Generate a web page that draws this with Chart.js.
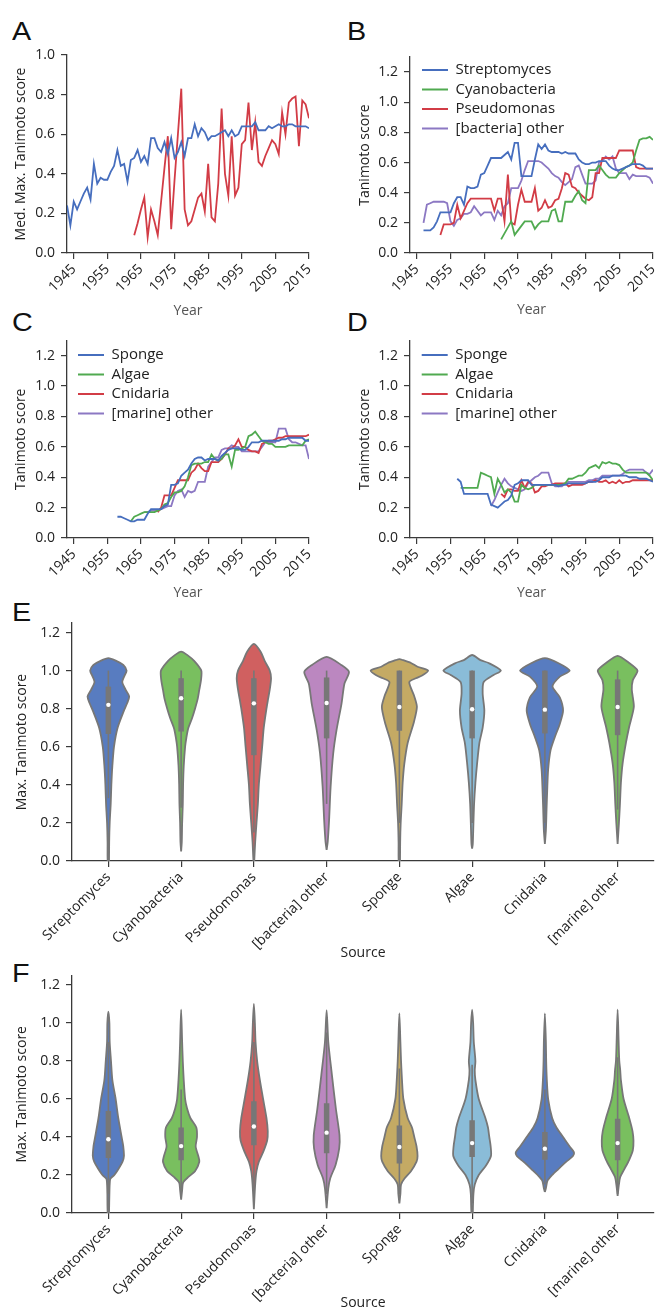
<!DOCTYPE html>
<html>
<head>
<meta charset="utf-8">
<script src="https://cdn.jsdelivr.net/npm/chart.js@4.4.1/dist/chart.umd.min.js"></script>
<style>
  html, body { margin: 0; padding: 0; background: #fff; overflow: hidden; }
  body { width: 658px; height: 1311px; position: relative; }
  .panel { position: absolute; }
  .letter { position: absolute; font-family: "Liberation Sans", Arial, sans-serif; font-size: 25px; line-height: 25px; color: #111; transform: scaleX(1.15); transform-origin: left top; }
</style>
</head>
<body>
<div class="letter" style="left:12px;top:19px">A</div>
<div class="letter" style="left:347px;top:19px">B</div>
<div class="letter" style="left:12px;top:310px">C</div>
<div class="letter" style="left:347px;top:310px">D</div>
<div class="letter" style="left:12px;top:600px">E</div>
<div class="letter" style="left:12px;top:961px">F</div>

<div class="panel" style="left:0;top:40px"><canvas id="chartA" width="325" height="290"></canvas></div>
<div class="panel" style="left:333px;top:40px"><canvas id="chartB" width="325" height="290"></canvas></div>
<div class="panel" style="left:0;top:325px"><canvas id="chartC" width="325" height="280"></canvas></div>
<div class="panel" style="left:333px;top:325px"><canvas id="chartD" width="325" height="280"></canvas></div>
<div class="panel" style="left:0;top:610px"><canvas id="chartE" width="658" height="355"></canvas></div>
<div class="panel" style="left:0;top:965px"><canvas id="chartF" width="658" height="346"></canvas></div>

<script>
// ---- data ----
const yearTicks = [1945, 1955, 1965, 1975, 1985, 1995, 2005, 2015];
const scoreTicksA = [0, 0.2, 0.4, 0.6, 0.8, 1.0];
const scoreTicks = [0, 0.2, 0.4, 0.6, 0.8, 1.0, 1.2];

// Panel A: median max Tanimoto score per year
const aBlueStart = 1943;
const aBlue = [
  0.24, 0.14, 0.26, 0.22, 0.26, 0.30, 0.33,
  0.27, 0.45, 0.35, 0.38, 0.37, 0.37, 0.41, 0.44, 0.52, 0.44,
  0.45, 0.36, 0.47, 0.48, 0.52, 0.46, 0.49, 0.45, 0.58, 0.58,
  0.53, 0.51, 0.56, 0.50, 0.58, 0.48, 0.51, 0.56, 0.49, 0.58,
  0.58, 0.65, 0.59, 0.63, 0.61, 0.57, 0.59, 0.59, 0.60, 0.61,
  0.62, 0.59, 0.62, 0.59, 0.60, 0.64, 0.64, 0.64, 0.64, 0.66,
  0.62, 0.62, 0.62, 0.64, 0.63, 0.64, 0.65, 0.64, 0.64, 0.65,
  0.65, 0.64, 0.64, 0.64, 0.64, 0.63
];
const aRedStart = 1963;
const aRed = [
  0.09, 0.15, 0.22, 0.28, 0.08, 0.22, 0.16,
  0.09, 0.26, 0.43, 0.59, 0.12, 0.37, 0.60, 0.83, 0.22, 0.14,
  0.16, 0.22, 0.28, 0.30, 0.21, 0.45, 0.18, 0.16, 0.35, 0.73,
  0.40, 0.29, 0.59, 0.29, 0.33, 0.55, 0.57, 0.76, 0.52, 0.66,
  0.46, 0.44, 0.49, 0.53, 0.57, 0.55, 0.50, 0.71, 0.60, 0.76,
  0.78, 0.79, 0.54, 0.77, 0.75, 0.68
];

// Panel B: bacteria sources
const bStreptoStart = 1947;
const bStrepto = [
  0.15, 0.15, 0.15,
  0.17, 0.21, 0.27, 0.27, 0.27, 0.27, 0.33, 0.37, 0.37, 0.32,
  0.44, 0.43, 0.43, 0.44, 0.52, 0.53, 0.58, 0.63, 0.63, 0.63,
  0.63, 0.65, 0.67, 0.62, 0.73, 0.73, 0.51, 0.51, 0.51, 0.51,
  0.62, 0.72, 0.69, 0.72, 0.68, 0.67, 0.67, 0.67, 0.66, 0.67,
  0.66, 0.66, 0.66, 0.62, 0.60, 0.59, 0.59, 0.60, 0.60, 0.61,
  0.61, 0.61, 0.58, 0.56, 0.55, 0.55, 0.56, 0.57, 0.58, 0.59,
  0.59, 0.59, 0.58, 0.56, 0.56, 0.56
];
const bCyanoStart = 1970;
const bCyano = [
  0.09, 0.13, 0.17, 0.21, 0.12, 0.15, 0.18, 0.21, 0.21, 0.21,
  0.16, 0.19, 0.21, 0.21, 0.21, 0.28, 0.29, 0.21, 0.21, 0.34,
  0.34, 0.34, 0.38, 0.41, 0.35, 0.33, 0.55, 0.55, 0.55, 0.58,
  0.55, 0.52, 0.50, 0.50, 0.50, 0.53, 0.55, 0.57, 0.58, 0.60,
  0.68, 0.75, 0.76, 0.76, 0.77, 0.75
];
const bPseudoStart = 1952;
const bPseudo = [
  0.12, 0.19, 0.19, 0.19, 0.20, 0.32, 0.23, 0.28,
  0.33, 0.36, 0.36, 0.36, 0.36, 0.36, 0.36, 0.36, 0.28, 0.36,
  0.36, 0.21, 0.52, 0.20, 0.19, 0.32, 0.42, 0.34, 0.34, 0.34,
  0.43, 0.28, 0.30, 0.35, 0.30, 0.31, 0.35, 0.36, 0.43, 0.53,
  0.52, 0.44, 0.43, 0.40, 0.38, 0.36, 0.35, 0.37, 0.53, 0.53,
  0.63, 0.63, 0.63, 0.63, 0.63, 0.68, 0.68, 0.68, 0.68, 0.68,
  0.57, 0.56, 0.56, 0.56, 0.56, 0.56
];
const bOtherStart = 1947;
const bOther = [
  0.20, 0.32, 0.33,
  0.34, 0.34, 0.34, 0.34, 0.33, 0.21, 0.18, 0.22, 0.23, 0.26,
  0.26, 0.27, 0.31, 0.28, 0.25, 0.27, 0.27, 0.27, 0.22, 0.28,
  0.25, 0.31, 0.33, 0.43, 0.43, 0.43, 0.48, 0.55, 0.61, 0.61,
  0.61, 0.61, 0.60, 0.58, 0.56, 0.53, 0.51, 0.50, 0.47, 0.45,
  0.47, 0.49, 0.57, 0.58, 0.52, 0.46, 0.46, 0.46, 0.48, 0.60,
  0.61, 0.64, 0.62, 0.64, 0.56, 0.53, 0.53, 0.53, 0.49, 0.52,
  0.51, 0.51, 0.51, 0.51, 0.50, 0.46
];

// Panel C: marine sources
const cSpongeStart = 1958;
const cSponge = [
  0.14, 0.14,
  0.13, 0.12, 0.11, 0.11, 0.12, 0.12, 0.12, 0.16, 0.19, 0.19,
  0.19, 0.19, 0.21, 0.22, 0.35, 0.35, 0.36, 0.41, 0.43, 0.45,
  0.49, 0.52, 0.53, 0.53, 0.51, 0.52, 0.52, 0.52, 0.51, 0.54,
  0.56, 0.58, 0.59, 0.59, 0.59, 0.58, 0.58, 0.60, 0.63, 0.63,
  0.63, 0.64, 0.64, 0.64, 0.64, 0.64, 0.64, 0.65, 0.65, 0.66,
  0.66, 0.66, 0.66, 0.66, 0.64, 0.64
];
const cAlgaeStart = 1962;
const cAlgae = [
  0.11, 0.14, 0.15, 0.16, 0.17, 0.17, 0.17, 0.17,
  0.18, 0.19, 0.22, 0.23, 0.27, 0.30, 0.30, 0.31, 0.34, 0.40,
  0.48, 0.49, 0.49, 0.49, 0.50, 0.50, 0.55, 0.52, 0.51, 0.52,
  0.55, 0.55, 0.47, 0.58, 0.58, 0.59, 0.60, 0.67, 0.68, 0.70,
  0.67, 0.64, 0.63, 0.62, 0.62, 0.60, 0.60, 0.60, 0.60, 0.61,
  0.61, 0.61, 0.61, 0.61, 0.64, 0.65
];
const cCnidStart = 1970;
const cCnid = [
  0.17, 0.20, 0.28, 0.28, 0.28, 0.33, 0.38, 0.38, 0.38, 0.38,
  0.43, 0.45, 0.49, 0.46, 0.44, 0.44, 0.50, 0.50, 0.50, 0.52,
  0.55, 0.59, 0.59, 0.61, 0.65, 0.60, 0.60, 0.58, 0.57, 0.57,
  0.56, 0.62, 0.63, 0.64, 0.64, 0.65, 0.66, 0.66, 0.67, 0.67,
  0.67, 0.67, 0.67, 0.67, 0.67, 0.68
];
const cOtherStart = 1966;
const cOther = [
  0.17, 0.17, 0.18, 0.18,
  0.18, 0.19, 0.20, 0.21, 0.21, 0.28, 0.31, 0.32, 0.27, 0.31,
  0.30, 0.31, 0.37, 0.37, 0.37, 0.47, 0.50, 0.53, 0.53, 0.58,
  0.59, 0.59, 0.61, 0.60, 0.60, 0.57, 0.57, 0.57, 0.57, 0.57,
  0.57, 0.60, 0.63, 0.63, 0.63, 0.63, 0.72, 0.72, 0.72, 0.65,
  0.63, 0.63, 0.62, 0.61, 0.61, 0.52
];

// Panel D: marine sources
const dSpongeStart = 1957;
const dSponge = [
  0.39, 0.37, 0.29,
  0.29, 0.29, 0.29, 0.29, 0.29, 0.29, 0.29, 0.22, 0.21, 0.20,
  0.22, 0.24, 0.25, 0.28, 0.35, 0.36, 0.38, 0.38, 0.38, 0.35,
  0.35, 0.35, 0.35, 0.35, 0.35, 0.35, 0.35, 0.34, 0.35, 0.35,
  0.36, 0.36, 0.36, 0.36, 0.36, 0.36, 0.37, 0.37, 0.37, 0.38,
  0.40, 0.40, 0.40, 0.41, 0.41, 0.41, 0.41, 0.41, 0.40, 0.40,
  0.40, 0.39, 0.39, 0.39, 0.38, 0.37
];
const dAlgaeStart = 1958;
const dAlgae = [
  0.33, 0.33,
  0.33, 0.33, 0.33, 0.33, 0.43, 0.42, 0.41, 0.40, 0.29, 0.39,
  0.35, 0.30, 0.32, 0.30, 0.24, 0.24, 0.35, 0.33, 0.32, 0.33,
  0.35, 0.35, 0.35, 0.35, 0.35, 0.35, 0.35, 0.35, 0.35, 0.36,
  0.39, 0.39, 0.40, 0.41, 0.41, 0.43, 0.46, 0.47, 0.48, 0.46,
  0.50, 0.49, 0.50, 0.49, 0.49, 0.48, 0.45, 0.43, 0.43, 0.43,
  0.43, 0.43, 0.43, 0.43, 0.41, 0.38
];
const dCnidStart = 1970;
const dCnid = [
  0.29, 0.27, 0.32, 0.32, 0.31, 0.31, 0.38, 0.33, 0.37, 0.36,
  0.30, 0.31, 0.34, 0.34, 0.35, 0.35, 0.36, 0.36, 0.36, 0.36,
  0.34, 0.35, 0.35, 0.35, 0.35, 0.36, 0.37, 0.37, 0.38, 0.37,
  0.37, 0.38, 0.36, 0.37, 0.36, 0.38, 0.36, 0.37, 0.37, 0.38,
  0.38, 0.38, 0.38, 0.38, 0.38, 0.38
];
const dOtherStart = 1967;
const dOther = [
  0.21, 0.25, 0.30,
  0.35, 0.39, 0.36, 0.34, 0.33, 0.32, 0.31, 0.32, 0.36, 0.38,
  0.40, 0.41, 0.43, 0.43, 0.43, 0.36, 0.34, 0.34, 0.34, 0.36,
  0.37, 0.37, 0.37, 0.37, 0.37, 0.37, 0.38, 0.38, 0.39, 0.39,
  0.41, 0.41, 0.41, 0.41, 0.41, 0.41, 0.42, 0.44, 0.45, 0.45,
  0.45, 0.45, 0.45, 0.43, 0.42, 0.45
];

// Panels E/F: violin profiles, [score, half width in category units]
const sources = ['Streptomyces', 'Cyanobacteria', 'Pseudomonas', '[bacteria] other',
                 'Sponge', 'Algae', 'Cnidaria', '[marine] other'];
const violinsE = [
  [[0, 0.009], [0.1, 0.011], [0.2, 0.018], [0.3, 0.032], [0.4, 0.041], [0.5, 0.055], [0.6, 0.077], [0.7, 0.127],
   [0.79, 0.214], [0.83, 0.259], [0.865, 0.286], [0.9, 0.236], [0.94, 0.191], [0.97, 0.218], [1.0, 0.25],
   [1.03, 0.205], [1.05, 0.114], [1.065, 0]],
  [[0.05, 0], [0.1, 0.009], [0.2, 0.014], [0.3, 0.023], [0.4, 0.027], [0.5, 0.036], [0.6, 0.055], [0.65, 0.073],
   [0.7, 0.1], [0.75, 0.15], [0.8, 0.191], [0.85, 0.227], [0.9, 0.25], [0.95, 0.273], [1.0, 0.277],
   [1.05, 0.182], [1.08, 0.091], [1.1, 0]],
  [[0, 0.005], [0.1, 0.018], [0.2, 0.036], [0.3, 0.055], [0.4, 0.068], [0.5, 0.091], [0.6, 0.114], [0.7, 0.136],
   [0.8, 0.173], [0.85, 0.195], [0.9, 0.218], [0.96, 0.236], [1.0, 0.218], [1.05, 0.15], [1.1, 0.091], [1.14, 0]],
  [[0.058, 0], [0.1, 0.015], [0.215, 0.034], [0.39, 0.055], [0.566, 0.091], [0.687, 0.136], [0.827, 0.205],
   [0.932, 0.245], [0.993, 0.307], [1.03, 0.2], [1.072, 0]],
  [[0, 0.009], [0.1, 0.011], [0.2, 0.018], [0.3, 0.032], [0.41, 0.045], [0.51, 0.068], [0.62, 0.114], [0.73, 0.2],
   [0.81, 0.241], [0.87, 0.2], [0.94, 0.136], [0.96, 0.227], [0.975, 0.318], [1.0, 0.395], [1.02, 0.25],
   [1.04, 0.16], [1.055, 0.05], [1.06, 0]],
  [[0.065, 0], [0.09, 0.009], [0.2, 0.018], [0.3, 0.027], [0.41, 0.045], [0.51, 0.068], [0.62, 0.1], [0.7, 0.145],
   [0.79, 0.168], [0.88, 0.145], [0.94, 0.159], [0.977, 0.295], [1.0, 0.395], [1.04, 0.227], [1.055, 0.114],
   [1.082, 0]],
  [[0.09, 0], [0.16, 0.014], [0.27, 0.023], [0.37, 0.032], [0.48, 0.045], [0.58, 0.077], [0.65, 0.136],
   [0.72, 0.205], [0.79, 0.25], [0.86, 0.205], [0.916, 0.105], [0.968, 0.205], [1.0, 0.341], [1.04, 0.182],
   [1.065, 0]],
  [[0.09, 0], [0.2, 0.018], [0.3, 0.032], [0.41, 0.045], [0.51, 0.068], [0.62, 0.114], [0.705, 0.159],
   [0.81, 0.223], [0.9, 0.195], [0.95, 0.209], [1.0, 0.273], [1.04, 0.159], [1.077, 0]]
];
// [q1, q3, median, whisker low, whisker high]
const boxesE = [
  [0.667, 0.916, 0.82, 0.33, 1.0],
  [0.68, 0.96, 0.855, 0.28, 1.0],
  [0.556, 0.96, 0.828, 0.15, 1.0],
  [0.644, 0.964, 0.83, 0.3, 1.0],
  [0.684, 1.0, 0.809, 0.2, 1.0],
  [0.644, 1.0, 0.797, 0.2, 1.0],
  [0.67, 1.0, 0.795, 0.2, 1.0],
  [0.661, 0.954, 0.809, 0.27, 1.0]
];
const violinsF = [
  [[0, 0.009], [0.1, 0.014], [0.15, 0.018], [0.18, 0.027], [0.2, 0.082], [0.23, 0.136], [0.27, 0.195],
   [0.3, 0.214], [0.35, 0.205], [0.4, 0.182], [0.5, 0.136], [0.6, 0.1], [0.7, 0.055], [0.8, 0.036],
   [0.9, 0.018], [1.0, 0.014], [1.06, 0]],
  [[0.07, 0], [0.12, 0.014], [0.16, 0.027], [0.19, 0.1], [0.22, 0.191], [0.27, 0.25], [0.3, 0.236],
   [0.35, 0.2], [0.4, 0.218], [0.45, 0.209], [0.5, 0.127], [0.55, 0.082], [0.6, 0.055], [0.7, 0.036],
   [0.8, 0.023], [0.9, 0.014], [1.07, 0]],
  [[0.02, 0], [0.15, 0.018], [0.22, 0.036], [0.27, 0.068], [0.32, 0.127], [0.38, 0.182], [0.43, 0.191],
   [0.5, 0.173], [0.6, 0.127], [0.7, 0.082], [0.8, 0.045], [0.9, 0.023], [1.0, 0.014], [1.1, 0]],
  [[0.026, 0], [0.13, 0.023], [0.183, 0.05], [0.253, 0.123], [0.34, 0.173], [0.41, 0.177], [0.55, 0.127],
   [0.726, 0.073], [0.9, 0.023], [1.068, 0]],
  [[0.05, 0], [0.1, 0.014], [0.15, 0.023], [0.18, 0.068], [0.22, 0.159], [0.27, 0.236], [0.3, 0.25],
   [0.35, 0.236], [0.4, 0.205], [0.45, 0.173], [0.5, 0.114], [0.6, 0.055], [0.7, 0.036], [0.8, 0.023],
   [0.9, 0.014], [1.05, 0]],
  [[0, 0.009], [0.1, 0.018], [0.15, 0.036], [0.2, 0.091], [0.25, 0.191], [0.3, 0.259], [0.35, 0.255],
   [0.4, 0.236], [0.45, 0.218], [0.5, 0.182], [0.6, 0.091], [0.7, 0.045], [0.75, 0.036], [0.8, 0.045],
   [0.9, 0.023], [1.0, 0.014], [1.07, 0]],
  [[0.11, 0], [0.13, 0.014], [0.17, 0.036], [0.2, 0.1], [0.23, 0.182], [0.27, 0.295], [0.3, 0.386],
   [0.32, 0.4], [0.35, 0.341], [0.4, 0.25], [0.45, 0.159], [0.5, 0.1], [0.6, 0.045], [0.7, 0.027],
   [0.8, 0.018], [0.9, 0.014], [1.05, 0]],
  [[0.09, 0], [0.15, 0.018], [0.19, 0.036], [0.23, 0.091], [0.28, 0.159], [0.33, 0.209], [0.38, 0.218],
   [0.43, 0.205], [0.5, 0.159], [0.6, 0.082], [0.7, 0.045], [0.75, 0.036], [0.8, 0.023], [0.9, 0.014],
   [1.07, 0]]
];
const boxesF = [
  [0.29, 0.537, 0.388, 0.1, 0.9],
  [0.277, 0.45, 0.352, 0.12, 0.65],
  [0.356, 0.588, 0.455, 0.1, 0.9],
  [0.314, 0.577, 0.423, 0.1, 0.95],
  [0.26, 0.461, 0.347, 0.1, 0.76],
  [0.295, 0.488, 0.368, 0.05, 0.78],
  [0.28, 0.426, 0.338, 0.15, 0.65],
  [0.277, 0.496, 0.368, 0.1, 0.82]
];

// ---- styles ----
const blue = '#466ebe', green = '#50aa50', red = '#d23c46', purple = '#8c78c3';
const violinColors = ['#587cc0', '#79bf5f', '#d06060', '#bb87c0', '#c4aa64', '#8abcd8', '#587cc0', '#79bf5f'];
const edgeGray = '#777777';
const axisColor = '#3a3a3a';

Chart.defaults.font.family = '"Open Sans", sans-serif';
Chart.defaults.font.size = 14;
Chart.defaults.color = '#222';

const gridStyle = { drawOnChartArea: false, drawTicks: true, tickLength: 6, color: axisColor, lineWidth: 1.2 };
const borderStyle = { display: true, color: axisColor, width: 1.3 };

function useTicks(values) {
  return scale => { scale.ticks = values.map(v => ({ value: v })); };
}
function fixSize(size) {
  return scale => {
    if (scale.isHorizontal()) {
      scale.height = size; scale.paddingLeft = 0; scale.paddingRight = 0;
    } else {
      scale.width = size; scale.paddingTop = 0; scale.paddingBottom = 0;
    }
  };
}

// put the legend inside the plot, top left
const legendShift = {
  id: 'legendShift',
  afterUpdate(chart, args, opts) {
    const lg = chart.legend;
    if (!lg || !lg.options.display) return;
    const area = chart.chartArea;
    lg.left = area.left + (opts.dx || 0);
    lg.top = area.top + (opts.dy || 0);
    lg.right = area.right;
    lg.bottom = area.bottom;
  }
};

function line(label, start, values, color) {
  return {
    label: label,
    data: values.map((v, i) => ({ x: start + i, y: v })),
    borderColor: color,
    backgroundColor: color,
    borderWidth: 1.8,
    pointRadius: 0,
    tension: 0
  };
}

function yearChart(id, datasets, cfg) {
  return new Chart(document.getElementById(id), {
    type: 'line',
    data: { datasets: datasets },
    options: {
      responsive: false,
      animation: false,
      events: [],
      layout: { padding: { top: cfg.top, right: cfg.right, left: 0, bottom: 0 } },
      plugins: {
        tooltip: { enabled: false },
        legend: cfg.legend ? {
          display: true,
          position: 'chartArea',
          align: 'start',
          labels: { boxWidth: 26, boxHeight: 0, padding: 4.5, color: '#222', font: { size: 15 } }
        } : { display: false },
        legendShift: { dx: cfg.dx, dy: cfg.dy }
      },
      scales: {
        x: {
          type: 'linear', min: 1943, max: 2015,
          afterBuildTicks: useTicks(yearTicks),
          afterFit: fixSize(cfg.xSize),
          ticks: { autoSkip: false, minRotation: 45, maxRotation: 45, padding: 2, callback: v => String(v) },
          grid: gridStyle,
          border: borderStyle,
          title: { display: true, text: 'Year', color: '#555', padding: { top: 0, bottom: cfg.xTitlePad } }
        },
        y: {
          type: 'linear', min: 0, max: cfg.yMax,
          afterBuildTicks: useTicks(cfg.yTicks),
          afterFit: fixSize(cfg.ySize),
          ticks: { padding: 6, callback: v => v.toFixed(1) },
          grid: gridStyle,
          border: borderStyle,
          title: { display: true, text: cfg.yTitle, color: '#222', padding: { top: cfg.yTitlePad, bottom: 0 } }
        }
      }
    },
    plugins: [legendShift]
  });
}

function violinChart(id, profiles, boxes, cfg) {
  const datasets = [];
  profiles.forEach((prof, i) => {
    const right = prof.map(([y, w]) => ({ x: i + w, y: y }));
    const left = prof.slice(0, -1).reverse().map(([y, w]) => ({ x: i - w, y: y }));
    datasets.push({
      data: right.concat(left, [right[0]]),
      borderColor: edgeGray, backgroundColor: violinColors[i],
      borderWidth: 1.8, pointRadius: 0, tension: 0.25, fill: 'shape', order: 3
    });
  });
  boxes.forEach(([q1, q3, med, lo, hi], i) => {
    datasets.push({
      data: [{ x: i, y: lo }, { x: i, y: hi }],
      borderColor: edgeGray, borderWidth: 1.6, pointRadius: 0, order: 2
    });
    datasets.push({
      data: [{ x: i, y: q1 }, { x: i, y: q3 }],
      borderColor: edgeGray, borderWidth: 5.5, borderCapStyle: 'butt', pointRadius: 0, order: 1
    });
  });
  datasets.push({
    data: boxes.map((b, i) => ({ x: i, y: b[2] })),
    showLine: false, pointRadius: 2.2, pointBackgroundColor: '#fff', pointBorderWidth: 0, order: 0
  });

  return new Chart(document.getElementById(id), {
    type: 'line',
    data: { datasets: datasets },
    options: {
      responsive: false,
      animation: false,
      events: [],
      layout: { padding: { top: cfg.top, right: 0, left: 0, bottom: 0 } },
      plugins: { tooltip: { enabled: false }, legend: { display: false } },
      scales: {
        x: {
          type: 'linear', min: -0.5, max: 7.5,
          afterBuildTicks: useTicks(sources.map((s, i) => i)),
          afterFit: fixSize(cfg.xSize),
          ticks: { autoSkip: false, minRotation: 45, maxRotation: 45, padding: 2, callback: v => sources[v] },
          grid: gridStyle,
          border: borderStyle,
          title: { display: true, text: 'Source', color: '#222', padding: { top: 0, bottom: cfg.xTitlePad } }
        },
        y: {
          type: 'linear', min: 0, max: 1.25,
          afterBuildTicks: useTicks(scoreTicks),
          afterFit: fixSize(72),
          ticks: { padding: 6, callback: v => v.toFixed(1) },
          grid: gridStyle,
          border: borderStyle,
          title: { display: true, text: 'Max. Tanimoto score', color: '#222', padding: { top: 14, bottom: 0 } }
        }
      }
    }
  });
}

// ---- charts ----
yearChart('chartA', [
  line('Streptomyces', aBlueStart, aBlue, blue),
  line('Pseudomonas', aRedStart, aRed, red)
], { top: 15, right: 16, xSize: 77, ySize: 67, yMax: 1.0, yTicks: scoreTicksA,
     yTitle: 'Med. Max. Tanimoto score', yTitlePad: 12.6, xTitlePad: 10.6, legend: false });

yearChart('chartB', [
  line('Streptomyces', bStreptoStart, bStrepto, blue),
  line('Cyanobacteria', bCyanoStart, bCyano, green),
  line('Pseudomonas', bPseudoStart, bPseudo, red),
  line('[bacteria] other', bOtherStart, bOther, purple)
], { top: 17, right: 5, xSize: 77, ySize: 77, yMax: 1.3, yTicks: scoreTicks,
     yTitle: 'Tanimoto score', yTitlePad: 23.6, xTitlePad: 11.6, legend: true, dx: 7.5, dy: 1 });

yearChart('chartC', [
  line('Sponge', cSpongeStart, cSponge, blue),
  line('Algae', cAlgaeStart, cAlgae, green),
  line('Cnidaria', cCnidStart, cCnid, red),
  line('[marine] other', cOtherStart, cOther, purple)
], { top: 15.5, right: 16, xSize: 67, ySize: 67, yMax: 1.3, yTicks: scoreTicks,
     yTitle: 'Tanimoto score', yTitlePad: 12.6, xTitlePad: 3.6, legend: true, dx: 6.5, dy: 2.5 });

yearChart('chartD', [
  line('Sponge', dSpongeStart, dSponge, blue),
  line('Algae', dAlgaeStart, dAlgae, green),
  line('Cnidaria', dCnidStart, dCnid, red),
  line('[marine] other', dOtherStart, dOther, purple)
], { top: 15.5, right: 5, xSize: 67, ySize: 77, yMax: 1.3, yTicks: scoreTicks,
     yTitle: 'Tanimoto score', yTitlePad: 23.6, xTitlePad: 3.6, legend: true, dx: 7.2, dy: 2.5 });

violinChart('chartE', violinsE, boxesE, { top: 13, xSize: 104, xTitlePad: 3.6 });
violinChart('chartF', violinsF, boxesF, { top: 10.5, xSize: 98, xTitlePad: 0 });
</script>
</body>
</html>
